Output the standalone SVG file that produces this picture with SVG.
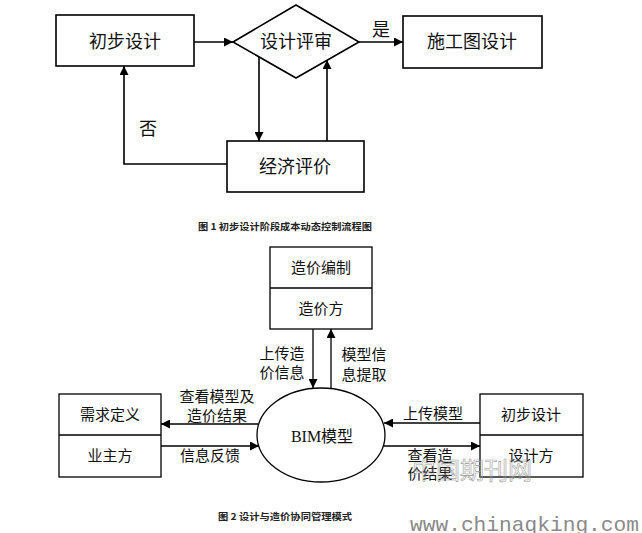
<svg xmlns="http://www.w3.org/2000/svg" width="642" height="533" viewBox="0 0 642 533">
<defs>
<marker id="ah" viewBox="0 0 10 10" refX="10" refY="5" markerWidth="9" markerHeight="9" markerUnits="userSpaceOnUse" orient="auto">
<path d="M0,0 L10,5 L0,10 z" fill="#000"/>
</marker>
</defs>
<style>
.box{fill:#fff;stroke:#000;stroke-width:1.6}
.box2{fill:#fff;stroke:#000;stroke-width:1.3}
.ln{fill:none;stroke:#000;stroke-width:1.6}
.ln2{fill:none;stroke:#000;stroke-width:1.3}
.t1{font-family:"Liberation Serif","Noto Sans CJK SC",serif;font-size:18px;fill:#111;text-anchor:middle;dominant-baseline:central}
.t2{font-family:"Liberation Serif","Noto Sans CJK SC",serif;font-size:15px;fill:#111;text-anchor:middle;dominant-baseline:central}
.cap{font-family:"Noto Sans CJK SC",sans-serif;font-size:9.5px;font-weight:bold;fill:#222;text-anchor:middle;dominant-baseline:central}
.wm{font-family:"Liberation Mono",monospace;font-size:21px;fill:#8a8a8a}
.wm2{font-family:"Noto Sans CJK SC",sans-serif;font-size:24px;fill:none;stroke:#9a9a9a;stroke-width:0.6}
</style>
<g id="connectors">
<line class="ln" x1="194" y1="42" x2="233" y2="42" marker-end="url(#ah)"/>
<line class="ln" x1="359" y1="42" x2="403" y2="42" marker-end="url(#ah)"/>
<line class="ln" x1="259" y1="57" x2="259" y2="141" marker-end="url(#ah)"/>
<line class="ln" x1="327" y1="141" x2="327" y2="60" marker-end="url(#ah)"/>
<polyline class="ln" points="227,164 124,164 124,66" marker-end="url(#ah)"/>
<line class="ln2" x1="313" y1="329" x2="313" y2="388" marker-end="url(#ah)"/>
<line class="ln2" x1="331" y1="389" x2="331" y2="329" marker-end="url(#ah)"/>
<line class="ln2" x1="258" y1="424" x2="161" y2="424" marker-end="url(#ah)"/>
<line class="ln2" x1="161" y1="446" x2="259" y2="446" marker-end="url(#ah)"/>
<line class="ln2" x1="480" y1="423" x2="384" y2="423" marker-end="url(#ah)"/>
<line class="ln2" x1="383" y1="446" x2="480" y2="446" marker-end="url(#ah)"/>
</g>
<g id="labels">
<text class="t1" x="381" y="30">是</text>
<text class="t1" x="148" y="129">否</text>
<text class="t2" x="282" y="354">上传造</text>
<text class="t2" x="282" y="373">价信息</text>
<text class="t2" x="364" y="355">模型信</text>
<text class="t2" x="364" y="375">息提取</text>
<text class="t2" x="217" y="397">查看模型及</text>
<text class="t2" x="217" y="416">造价结果</text>
<text class="t2" x="210" y="456">信息反馈</text>
<text class="t2" x="433" y="414">上传模型</text>
<text class="t2" x="430" y="456">查看造</text>
<text class="t2" x="430" y="474">价结果</text>
</g>
<g id="n-chubu">
<rect class="box" x="56" y="15" width="138" height="51"/>
<text class="t1" x="125" y="42">初步设计</text>
</g>
<g id="n-pingshen">
<polygon class="box" points="233,42 296,5 359,42 296,78"/>
<text class="t1" x="296" y="42">设计评审</text>
</g>
<g id="n-shigong">
<rect class="box" x="403" y="16" width="139" height="52"/>
<text class="t1" x="472" y="42">施工图设计</text>
</g>
<g id="n-jingji">
<rect class="box" x="227" y="141" width="137" height="51"/>
<text class="t1" x="295" y="167">经济评价</text>
</g>
<g id="cap1">
<text class="cap" x="285" y="226" textLength="174" lengthAdjust="spacingAndGlyphs">图 1 初步设计阶段成本动态控制流程图</text>
</g>
<g id="n-zaojia">
<rect class="box2" x="270" y="247" width="102" height="82"/>
<line class="ln2" x1="270" y1="288" x2="372" y2="288"/>
<text class="t2" x="321" y="268">造价编制</text>
<text class="t2" x="321" y="309">造价方</text>
</g>
<g id="n-yezhu">
<rect class="box2" x="59" y="394" width="102" height="83"/>
<line class="ln2" x1="59" y1="435" x2="161" y2="435"/>
<text class="t2" x="110" y="415">需求定义</text>
<text class="t2" x="110" y="456">业主方</text>
</g>
<g id="n-sheji">
<rect class="box2" x="480" y="394" width="103" height="83"/>
<line class="ln2" x1="480" y1="435" x2="583" y2="435"/>
<text class="t2" x="531" y="415">初步设计</text>
<text class="t2" x="531" y="456">设计方</text>
</g>
<g id="n-bim">
<ellipse class="box2" cx="321" cy="435" rx="64" ry="47" style="fill:none"/>
<text class="t2" x="322" y="436" style="font-size:16px">BIM模型</text>
</g>
<g id="cap2">
<text class="cap" x="285" y="516" textLength="134" lengthAdjust="spacingAndGlyphs">图 2 设计与造价协同管理模式</text>
</g>
<g id="watermark">
<text class="wm2" x="412" y="479">中国期刊网</text>
<text class="wm" x="410" y="531" textLength="229" lengthAdjust="spacingAndGlyphs">www.chinaqking.com</text>
</g>
</svg>
